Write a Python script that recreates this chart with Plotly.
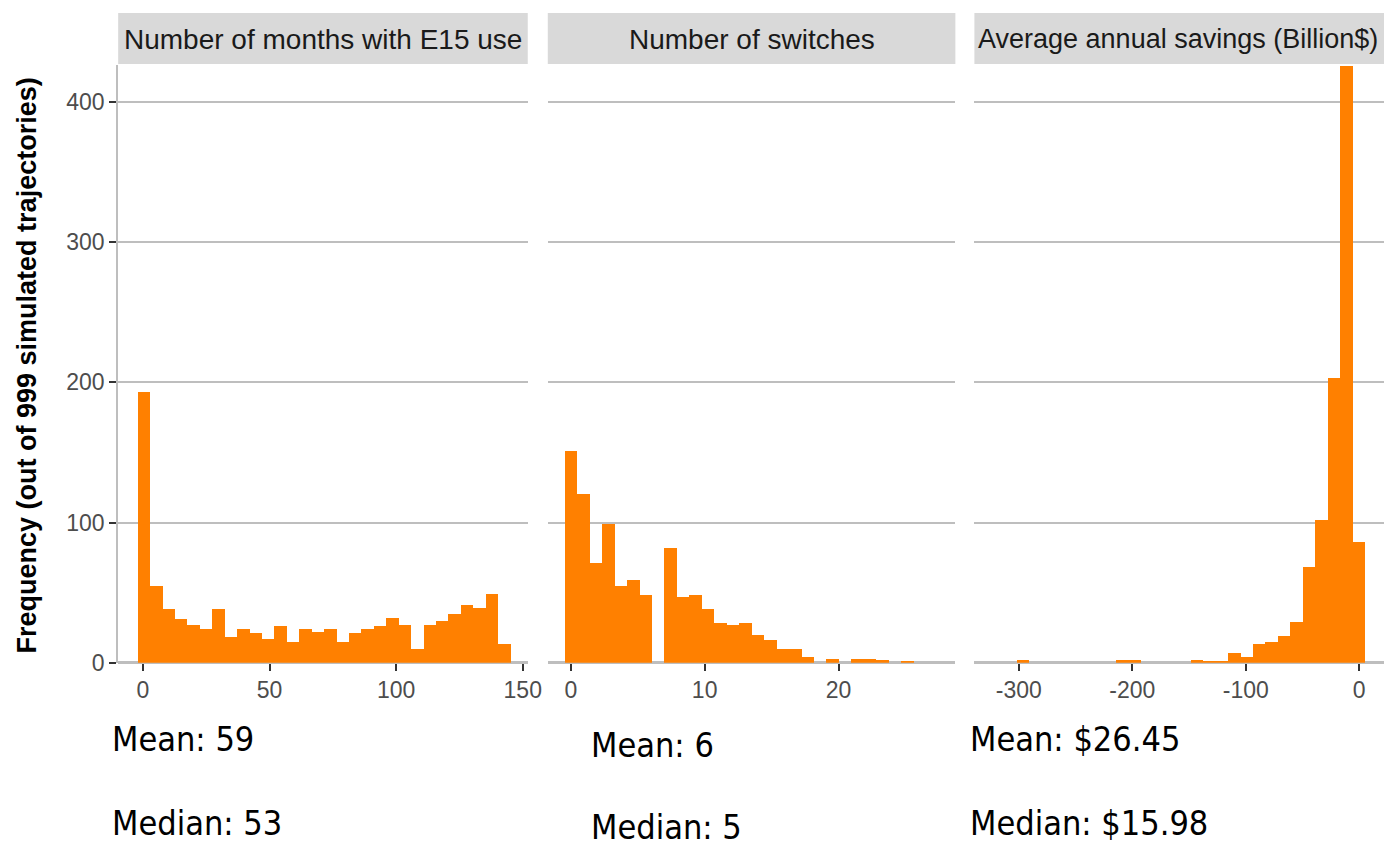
import plotly.graph_objects as go

# ---------------- data ----------------
panel_titles = ["Number of months with E15 use", "Number of switches", "Average annual savings (Billion$)"]

months_bin_start = -1.99      # left edge of first bin
months_bin_width = 4.908
months_counts = [193, 55, 38, 31, 27, 24, 38, 18, 24, 21, 17, 26, 15, 24, 22,
                 24, 15, 21, 24, 26, 32, 27, 10, 27, 30, 35, 41, 39, 49, 13]

switches_bin_start = -0.4655
switches_bin_width = 0.931
switches_counts = [151, 120, 71, 99, 55, 59, 48, 0, 82, 47, 48, 38, 28, 27, 28,
                   20, 16, 10, 10, 4, 0, 3, 0, 3, 3, 2, 0, 1]

savings_bin_start = -301.69
savings_bin_width = 10.97
savings_counts = [2, 0, 0, 0, 0, 0, 0, 0, 2, 2, 0, 0, 0, 0, 2, 1, 1, 7, 4, 13,
                  15, 19, 29, 68, 102, 203, 426, 86]

y_ticks = [0, 100, 200, 300, 400]
x1_ticks = [0, 50, 100, 150]
x2_ticks = [0, 10, 20]
x3_ticks = [-300, -200, -100, 0]
x3_ticktext = ["-300", "-200", "-100", "0"]

summary_lines = [
    ["Mean: 59", "Median: 53"],
    ["Mean: 6", "Median: 5"],
    ["Mean: $26.45", "Median: $15.98"],
]
y_title = "Frequency (out of 999 simulated trajectories)"


def centers(start, width, n):
    return [start + width * (k + 0.5) for k in range(n)]


# target picture geometry (reference pixels)
REF_W, REF_H = 1384, 851
# figure size that fills the captured area once the page margin is removed
W, H = 1400, 865
BAR = "#FF8000"
GRID = "#BEBEBE"
TICK = "#333333"
TXT = "#4D4D4D"
FONT = "Liberation Sans, Arial, sans-serif"
NARROW = "Liberation Sans Narrow, Arial Narrow, DejaVu Sans Condensed, sans-serif"

# panel geometry in reference pixels
px = [(118, 527), (547, 954), (973, 1383)]
top_px, bot_px = 65, 662


def fx(p):
    return min(1.0, max(0.0, p / REF_W))


def fy(p):
    return 1 - p / REF_H


fig = go.Figure()
series = [
    (months_bin_start, months_bin_width, months_counts),
    (switches_bin_start, switches_bin_width, switches_counts),
    (savings_bin_start, savings_bin_width, savings_counts),
]
for i, (s, w, c) in enumerate(series):
    sfx = "" if i == 0 else str(i + 1)
    fig.add_trace(go.Bar(
        x=centers(s, w, len(c)), y=c, width=w,
        marker=dict(color=BAR, line=dict(width=0)),
        xaxis="x" + sfx, yaxis="y" + sfx, showlegend=False,
        hoverinfo="x+y",
    ))

xranges = [[-9.77, 151.98], [-1.72, 28.73], [-339.2, 22.7]]
xticks = [x1_ticks, x2_ticks, x3_ticks]
xtexts = [[str(v) for v in x1_ticks], [str(v) for v in x2_ticks], x3_ticktext]

layout = dict(
    width=W, height=H,
    margin=dict(l=0, r=0, t=0, b=0),
    paper_bgcolor="white", plot_bgcolor="white",
    font=dict(family=FONT, color="black"),
    bargap=0,
    shapes=[], annotations=[],
)

strip_text_x = [322.5, 750.5, 1176]
strip_text_size = [28, 28, 27]
for i in range(3):
    sfx = "" if i == 0 else str(i + 1)
    layout["xaxis" + sfx] = dict(
        domain=[fx(px[i][0]), fx(px[i][1])],
        range=xranges[i], anchor="y" + sfx,
        tickmode="array", tickvals=xticks[i], ticktext=xtexts[i],
        ticks="outside", ticklen=7, tickwidth=2, tickcolor=TICK,
        tickfont=dict(size=23, color=TXT, family=FONT),
        showgrid=False, zeroline=False, showline=False, fixedrange=True,
    )
    layout["yaxis" + sfx] = dict(
        domain=[fy(bot_px), fy(top_px)],
        range=[0, 426.4], anchor="x" + sfx,
        tickmode="array", tickvals=y_ticks,
        ticks="outside" if i == 0 else "", ticklen=7, tickwidth=2, tickcolor=TICK,
        showticklabels=(i == 0),
        tickfont=dict(size=23, color=TXT, family=FONT),
        showgrid=True, gridcolor=GRID, gridwidth=2,
        zeroline=True, zerolinecolor=GRID, zerolinewidth=2.5,
        showline=(i == 0), linecolor=GRID, linewidth=2,
        fixedrange=True,
    )
    # strip
    layout["shapes"].append(dict(
        type="rect", xref="paper", yref="paper",
        x0=fx(px[i][0]), x1=fx(px[i][1]), y0=fy(64), y1=fy(13),
        fillcolor="#D9D9D9", line=dict(width=0), layer="below",
    ))
    layout["annotations"].append(dict(
        text=panel_titles[i], xref="paper", yref="paper",
        x=fx(strip_text_x[i]), y=fy(39),
        xanchor="center", yanchor="middle", showarrow=False,
        font=dict(size=strip_text_size[i], color="#1A1A1A", family=FONT),
    ))

# summary text under each panel
sum_pos = [(110, 738, 822), (588, 744, 826), (967, 738, 822)]
for i in range(3):
    x0, y_mean, y_med = sum_pos[i]
    for txt, yy in zip(summary_lines[i], (y_mean, y_med)):
        layout["annotations"].append(dict(
            text=txt, xref="paper", yref="paper", x=fx(x0), y=fy(yy),
            xanchor="left", yanchor="middle", showarrow=False,
            font=dict(size=34, color="black", family=NARROW),
        ))

layout["annotations"].append(dict(
    text="<b>" + y_title + "</b>", xref="paper", yref="paper",
    x=fx(27), y=fy(365), xanchor="center", yanchor="middle",
    textangle=-90, showarrow=False,
    font=dict(size=27, color="black", family=FONT),
))

fig.update_layout(**layout)
fig.write_html(
    "out.html",
    config={"displayModeBar": False},
    post_script="document.body.style.margin='0';document.body.style.overflow='hidden';",
)
